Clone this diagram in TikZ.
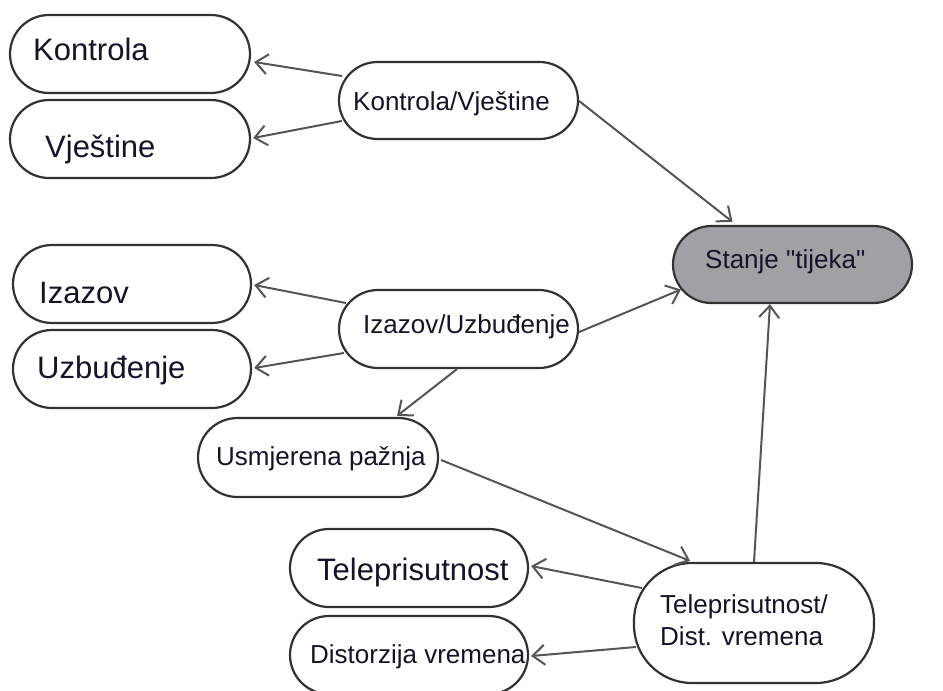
\documentclass[tikz,border=0pt]{standalone}
\usepackage{fontspec}
\setmainfont{Liberation Sans}[Ligatures=TeXOff]
\usetikzlibrary{shapes.misc,arrows.meta,calc}
\definecolor{boxline}{RGB}{50,50,50}
\definecolor{conline}{RGB}{85,85,85}
\definecolor{stafill}{RGB}{160,161,164}
\definecolor{txt}{RGB}{20,20,40}
\tikzset{
  pill/.style={rounded rectangle, draw=boxline, line width=2.2pt, fill=white, inner sep=0pt},
  bigtxt/.style={anchor=base west, inner sep=0pt, text=txt, font=\fontsize{31}{34}\selectfont},
  smalltxt/.style={anchor=base west, inner sep=0pt, text=txt, font=\fontsize{26}{32}\selectfont},
  conn/.style={draw=conline, line width=2pt, -{Straight Barb[length=12pt,width=20pt]}},
}
\begin{document}
\begin{tikzpicture}[x=1pt,y=-1pt]
\useasboundingbox[fill=white] (0,0) rectangle (943,691);
% shapes
\node[pill, minimum width=240, minimum height=78] (kon) at (130,54) {};
\node[pill, minimum width=240, minimum height=78] (vje) at (130,139) {};
\node[pill, minimum width=239, minimum height=77] (kv) at (458.5,100.5) {};
\node[pill, minimum width=239, minimum height=77, fill=stafill] (sta) at (792.5,264.5) {};
\node[pill, minimum width=238, minimum height=78] (iza) at (132,284) {};
\node[pill, minimum width=238, minimum height=78] (uzb) at (132,369) {};
\node[pill, minimum width=239, minimum height=78] (iu) at (458.5,329) {};
\node[pill, minimum width=240, minimum height=79] (usm) at (318,457.5) {};
\node[pill, minimum width=238, minimum height=78] (tel) at (409,568) {};
\node[pill, minimum width=238, minimum height=78] (dis) at (409,655) {};
\node[rectangle, rounded corners=58pt, draw=boxline, line width=2.2pt, fill=white, minimum width=240, minimum height=120, inner sep=0pt] (td) at (754,623) {};
% texts
\node[bigtxt] (tkon) at (33,60) {Kontrola};
\node[bigtxt] (tvje) at (45,157) {Vještine};
\node[smalltxt] (tkv) at (353,110) {Kontrola/Vještine};
\node[smalltxt] (tsta) at (705,268) {Stanje "tijeka"};
\node[bigtxt] (tiza) at (39,303) {Izazov};
\node[bigtxt] (tuzb) at (37,378) {Uzbuđenje};
\node[smalltxt] (tiu) at (363,333) {Izazov/Uzbuđenje};
\node[smalltxt] (tusm) at (216,465) {Usmjerena pažnja};
\node[bigtxt] (ttel) at (317,580) {Teleprisutnost};
\node[smalltxt] (tdis) at (310,663) {Distorzija vremena};
\node[smalltxt] (ttd1) at (660,613) {Teleprisutnost/};
\node[smalltxt] (ttd2) at (660,645) {Dist. vremena};
% connectors
\draw[conn] ($(kv.west)+(4,-24.5)$) -- ($(kon.east)+(3,8)$);
\draw[conn] ($(kv.west)+(4,20.5)$) -- ($(vje.east)+(2,-1)$);
\draw[conn] ($(kv.east)+(0,0.5)$) -- ($(sta.north)+(-60,-3)$);
\draw[conn] ($(iu.west)+(8,-26)$) -- ($(iza.east)+(2,1)$);
\draw[conn] ($(iu.west)+(6,24)$) -- ($(uzb.east)+(2,-1)$);
\draw[conn] ($(iu.east)+(0,3)$) -- ($(sta.west)+(9,25)$);
\draw[conn] ($(iu.south)+(-1.5,0)$) -- ($(usm.north)+(79,-1)$);
\draw[conn] ($(usm.east)+(2,2.5)$) -- ($(td.north)+(-64,-1)$);
\draw[conn] ($(td.west)+(9,-35)$) -- ($(tel.east)+(2,-2)$);
\draw[conn] ($(td.west)+(3,24)$) -- ($(dis.east)+(2,1)$);
\draw[conn] (td.north) -- ($(sta.south)+(-22.5,0)$);
\end{tikzpicture}
\end{document}
